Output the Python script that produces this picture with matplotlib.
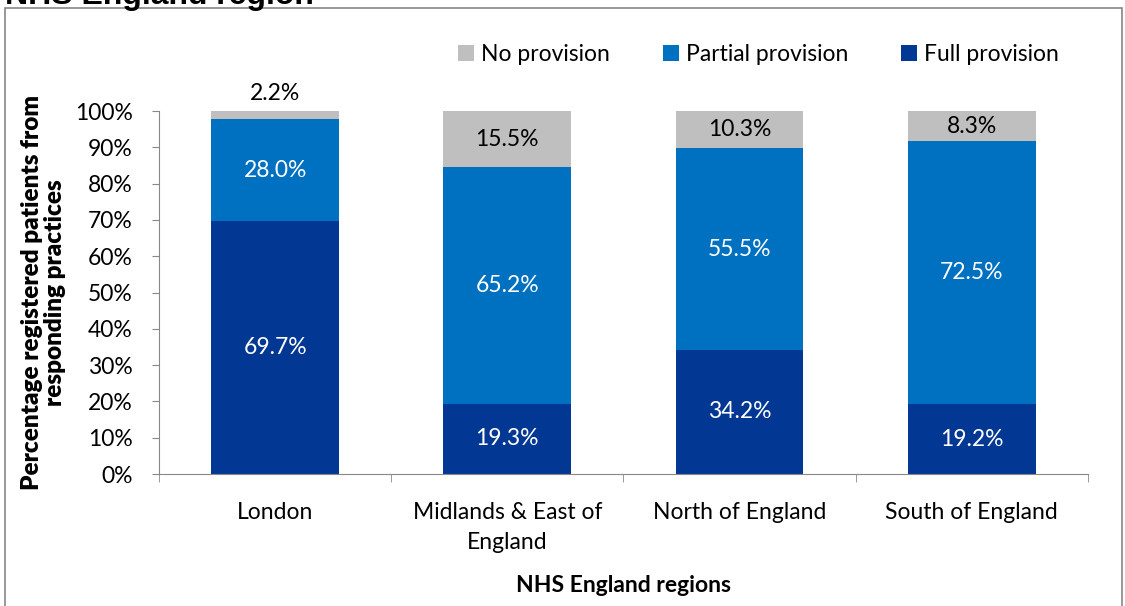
import matplotlib.pyplot as plt
import matplotlib.patches as mpatches
import numpy as np

regions = ["London", "Midlands & East of\nEngland", "North of England", "South of England"]
full = [69.7, 19.3, 34.2, 19.2]
partial = [28.0, 65.2, 55.5, 72.5]
none = [2.2, 15.5, 10.3, 8.3]

c_full = "#023894"
c_partial = "#0070C0"
c_none = "#BFBFBF"

plt.rcParams['font.family'] = ['Lato', 'DejaVu Sans']

fig = plt.figure(figsize=(11.25, 6.06), dpi=100)
ax = fig.add_axes([0.1413, 0.2178, 0.8258, 0.599])

x = np.arange(len(regions))
w = 0.55
b1 = ax.bar(x, full, w, color=c_full, label="Full provision")
b2 = ax.bar(x, partial, w, bottom=full, color=c_partial, label="Partial provision")
bottom2 = np.array(full) + np.array(partial)
b3 = ax.bar(x, none, w, bottom=bottom2, color=c_none, label="No provision")

fs = 16.5
for i in range(len(regions)):
    ax.text(x[i], full[i] / 2, f"{full[i]:.1f}%", ha='center', va='center', color='white', fontsize=fs)
    ax.text(x[i], full[i] + partial[i] / 2, f"{partial[i]:.1f}%", ha='center', va='center', color='white', fontsize=fs)
    if none[i] < 5:
        ax.text(x[i], bottom2[i] + none[i] + 2.0, f"{none[i]:.1f}%", ha='center', va='bottom', color='black', fontsize=fs)
    else:
        ax.text(x[i], bottom2[i] + none[i] / 2, f"{none[i]:.1f}%", ha='center', va='center', color='black', fontsize=fs)

ax.set_xlim(-0.5, len(regions) - 0.5)
ax.set_ylim(0, 100)
ax.set_yticks(np.arange(0, 101, 10))
ax.set_yticklabels([f"{v}%" for v in range(0, 101, 10)], fontsize=fs)
ax.set_xticks(x)
ax.set_xticklabels(regions, fontsize=fs, linespacing=1.55)
ax.set_xticks(np.arange(-0.5, len(regions), 1), minor=True)
ax.tick_params(axis='x', which='major', length=0, pad=20)
ax.tick_params(axis='x', which='minor', length=6, color='#888888')
ax.tick_params(axis='y', length=5, color='#888888', pad=14)

for s in ['top', 'right']:
    ax.spines[s].set_visible(False)
for s in ['left', 'bottom']:
    ax.spines[s].set_color('#888888')

ax.set_ylabel("Percentage registered patients from\nresponding practices", fontsize=17.5, fontweight='heavy',
              labelpad=6, linespacing=1.05)
ax.set_xlabel("NHS England regions", fontsize=fs, fontweight='bold', labelpad=16)

handles = [b3, b2, b1]
fig.legend(handles, [h.get_label() for h in handles], loc='center', bbox_to_anchor=(0.674, 0.91),
           ncol=3, frameon=False, fontsize=fs, handlelength=0.7, handleheight=0.7,
           handletextpad=0.3, columnspacing=2.3)

# outer chart border
border = mpatches.Rectangle((5 / 1125, -0.01), 1117 / 1125, 1 - 8 / 606 + 0.01, transform=fig.transFigure,
                            fill=False, edgecolor='#868686', linewidth=1.2)
fig.patches.append(border)

# title cut off at the top of the image
fig.text(5 / 1125, 1 - 4 / 606, "NHS England region", fontsize=23, fontweight='bold',
         family='Liberation Sans', va='baseline', ha='left')

fig.savefig("out.png", dpi=100)
